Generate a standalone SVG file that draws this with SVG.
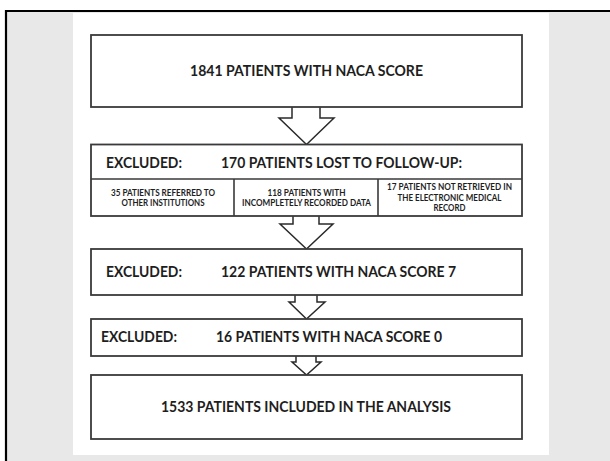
<svg xmlns="http://www.w3.org/2000/svg" width="610" height="461" viewBox="0 0 610 461">
<style>
.box{fill:#ffffff;stroke:#3a3a3a;stroke-width:1.8}
.div{stroke:#3a3a3a;stroke-width:1.6;fill:none}
.arr{fill:#ffffff;stroke:#2a2a2a;stroke-width:1.5;stroke-linejoin:miter}
.t{font-family:Lato,"Open Sans","Liberation Sans",sans-serif;font-weight:bold;fill:#1e1e1e;font-size:14.6px}
.s{font-family:Lato,"Open Sans","Liberation Sans",sans-serif;font-weight:bold;fill:#1e1e1e;font-size:8.7px;text-anchor:middle}
</style>
<rect x="6" y="11" width="610" height="460" fill="#e8e8e8"/>
<path d="M6 461 V11 H610" fill="none" stroke="#000" stroke-width="2.2"/>
<rect x="73" y="13" width="476" height="442" fill="#ffffff"/>

<g id="connectors">
<path class="arr" d="M292 107 V118 H279 L306.5 144.5 L334 118 H320 V107"/>
<path class="arr" d="M293 216 V224 H280 L306.5 249 L333 224 H319 V216"/>
<path class="arr" d="M295 295 V302 H289 L306.5 319 L325 302 H317 V295"/>
<path class="arr" d="M296 356 V362 H292 L306.5 375 L321 362 H316 V356"/>
</g>

<g id="n1">
<rect class="box" x="91" y="35" width="431" height="72"/>
<text class="t" x="190" y="76" textLength="233" lengthAdjust="spacingAndGlyphs">1841 PATIENTS WITH NACA SCORE</text>
</g>

<g id="n2">
<rect class="box" x="91" y="144.5" width="431" height="71.5"/>
<path class="div" d="M91 179 H522 M234 179 V216 M378 179 V216"/>
<text class="t" x="106" y="168" textLength="76" lengthAdjust="spacingAndGlyphs">EXCLUDED:</text>
<text class="t" x="221" y="168" textLength="241" lengthAdjust="spacingAndGlyphs">170 PATIENTS LOST TO FOLLOW-UP:</text>
<g id="n2a">
<text class="s" x="163" y="195.5" textLength="104" lengthAdjust="spacingAndGlyphs">35 PATIENTS REFERRED TO</text>
<text class="s" x="163" y="205.5" textLength="83" lengthAdjust="spacingAndGlyphs">OTHER INSTITUTIONS</text>
</g>
<g id="n2b">
<text class="s" x="306.5" y="195.5" textLength="78" lengthAdjust="spacingAndGlyphs">118 PATIENTS WITH</text>
<text class="s" x="306.5" y="205.5" textLength="129" lengthAdjust="spacingAndGlyphs">INCOMPLETELY RECORDED DATA</text>
</g>
<g id="n2c">
<text class="s" x="449.5" y="190" textLength="125" lengthAdjust="spacingAndGlyphs">17 PATIENTS NOT RETRIEVED IN</text>
<text class="s" x="449.5" y="200.5" textLength="104" lengthAdjust="spacingAndGlyphs">THE ELECTRONIC MEDICAL</text>
<text class="s" x="449.5" y="211" textLength="32" lengthAdjust="spacingAndGlyphs">RECORD</text>
</g>
</g>

<g id="n3">
<rect class="box" x="91" y="249" width="431" height="46"/>
<text class="t" x="106" y="277" textLength="76" lengthAdjust="spacingAndGlyphs">EXCLUDED:</text>
<text class="t" x="221" y="277" textLength="235" lengthAdjust="spacingAndGlyphs">122 PATIENTS WITH NACA SCORE 7</text>
</g>

<g id="n4">
<rect class="box" x="91" y="319" width="431" height="37"/>
<text class="t" x="101" y="341.5" textLength="76" lengthAdjust="spacingAndGlyphs">EXCLUDED:</text>
<text class="t" x="216" y="341.5" textLength="226" lengthAdjust="spacingAndGlyphs">16 PATIENTS WITH NACA SCORE 0</text>
</g>

<g id="n5">
<rect class="box" x="91" y="375" width="431" height="64"/>
<text class="t" x="161" y="411.5" textLength="290" lengthAdjust="spacingAndGlyphs">1533 PATIENTS INCLUDED IN THE ANALYSIS</text>
</g>
</svg>
